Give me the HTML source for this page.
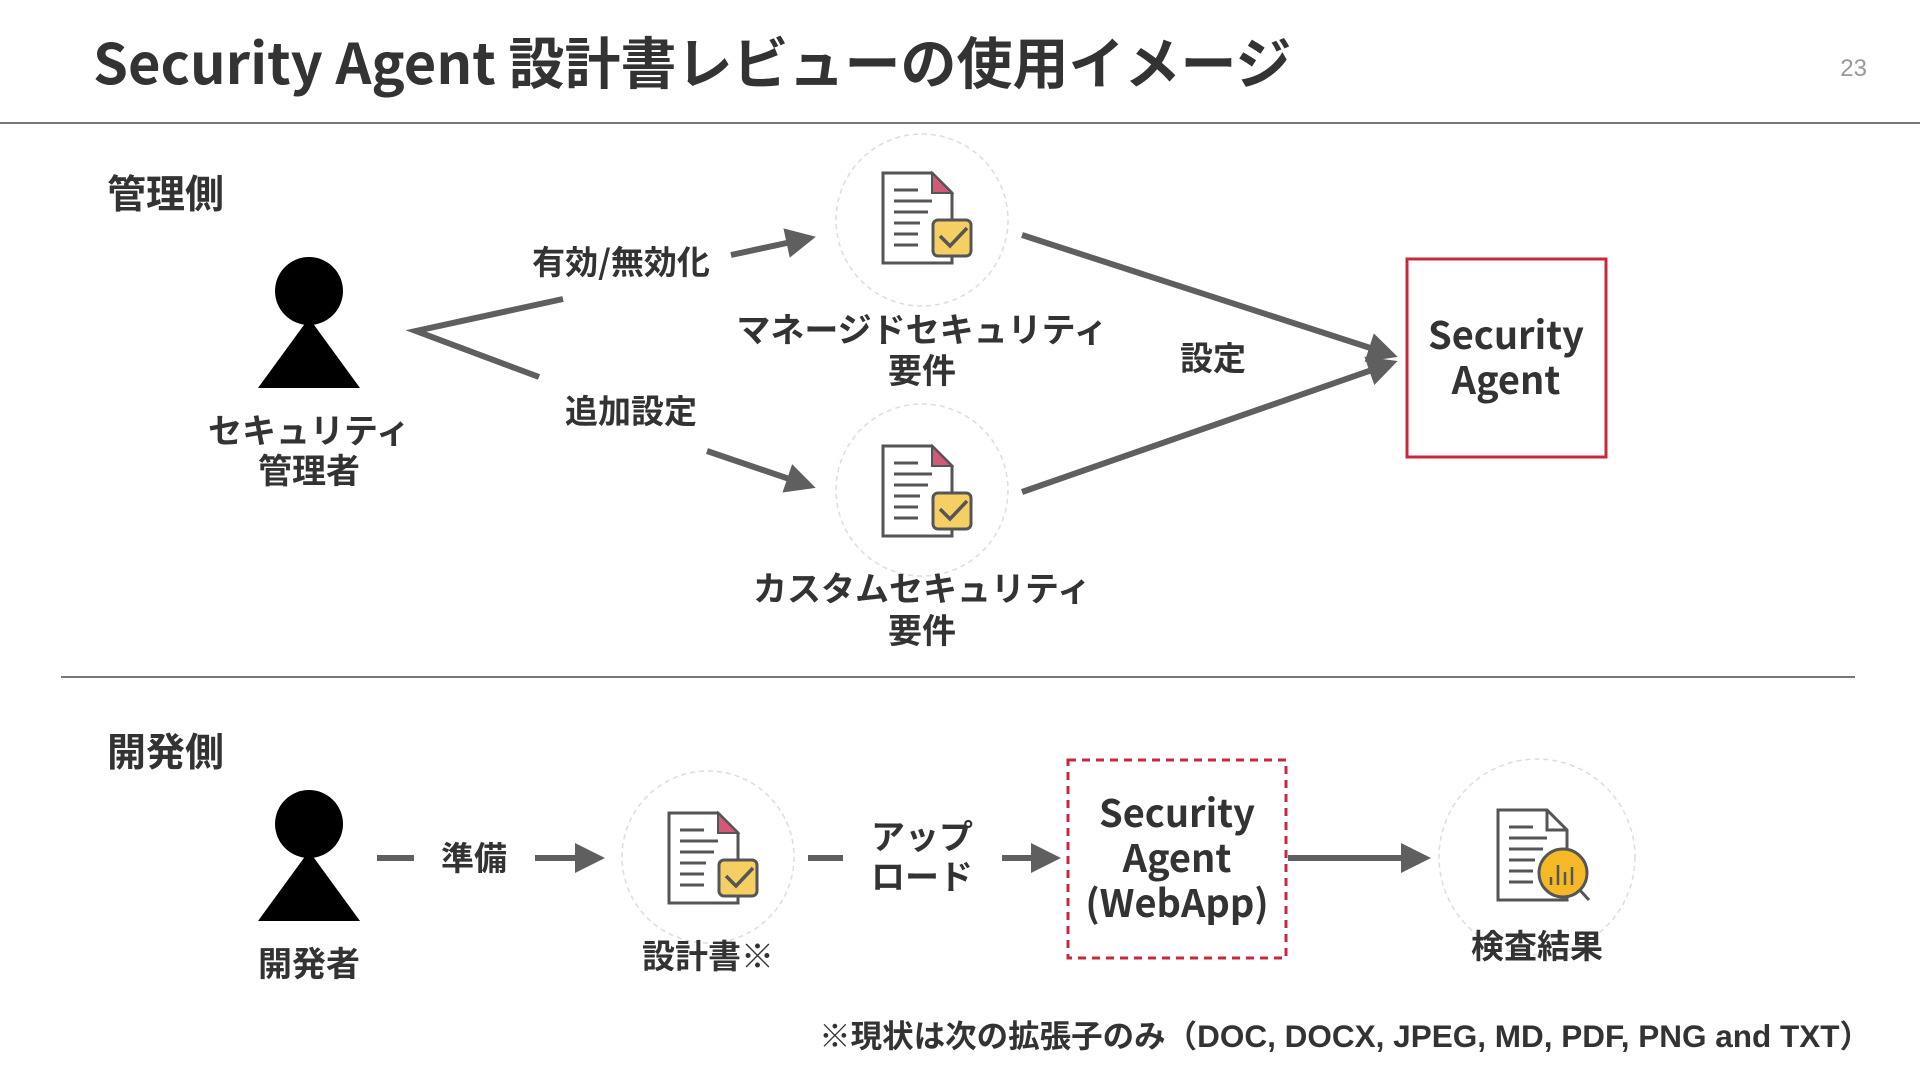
<!DOCTYPE html>
<html><head><meta charset="utf-8"><style>
html,body{margin:0;padding:0;background:#fff;}
svg{display:block;font-family:"Liberation Sans","Noto Sans CJK JP",sans-serif;}
.t{font-weight:bold;fill:#333;font-family:"Noto Sans CJK JP","Liberation Sans",sans-serif;}
.f{font-weight:bold;fill:#333;font-family:"Liberation Sans","Noto Sans CJK JP",sans-serif;}
</style></head><body>
<svg width="1920" height="1080" viewBox="0 0 1920 1080" xmlns="http://www.w3.org/2000/svg">
<defs>
<marker id="ah" markerWidth="5" markerHeight="5" refX="4" refY="2.5" orient="auto" markerUnits="strokeWidth"><path d="M0,0 L5,2.5 L0,5 z" fill="#5f5f5f"/></marker>
<g id="doc">
  <path d="M-39,-47 L10,-47 L30,-27 L30,43 L-39,43 Z" fill="#fff" stroke="#555" stroke-width="3"/>
  <path d="M10,-47 L30,-27 L10,-27 Z" fill="#d4587a" stroke="#555" stroke-width="2"/>
  <g stroke="#555" stroke-width="3">
    <line x1="-28" y1="-30" x2="-4" y2="-30"/><line x1="-28" y1="-19" x2="10" y2="-19"/>
    <line x1="-28" y1="-8" x2="6" y2="-8"/><line x1="-28" y1="3" x2="-2" y2="3"/>
    <line x1="-28" y1="14" x2="-4" y2="14"/><line x1="-28" y1="25" x2="-4" y2="25"/>
  </g>
</g>
<g id="docchk">
  <use href="#doc"/>
  <rect x="11" y="0" width="38" height="36" rx="5" fill="#f5cf64" stroke="#555" stroke-width="3"/>
  <path d="M18,16 L28,26 L45,8" fill="none" stroke="#555" stroke-width="3.5"/>
</g>
</defs>

<text x="93" y="84" class="t" font-size="56" fill="#444">Security Agent 設計書レビューの使用イメージ</text>
<text x="1867" y="76" font-size="24" fill="#999" text-anchor="end">23</text>
<line x1="0" y1="123" x2="1920" y2="123" stroke="#777" stroke-width="2"/>
<line x1="61" y1="677" x2="1855" y2="677" stroke="#777" stroke-width="2"/>

<text x="107" y="208" class="t" font-size="39">管理側</text>
<text x="107" y="766" class="t" font-size="39">開発側</text>

<circle cx="309" cy="291" r="34" fill="#000"/>
<path d="M309,318 L360,388 L258,388 Z" fill="#000"/>
<text x="309" y="443" class="t" font-size="34" text-anchor="middle">セキュリティ</text>
<text x="309" y="483" class="t" font-size="34" text-anchor="middle">管理者</text>

<g stroke="#5f5f5f" stroke-width="6" fill="none">
<polyline points="563,299 416,331 539,377"/>
<line x1="731" y1="255" x2="810" y2="238" marker-end="url(#ah)"/>
<line x1="707" y1="451" x2="810" y2="486" marker-end="url(#ah)"/>
<line x1="1022" y1="235" x2="1392" y2="355" marker-end="url(#ah)"/>
<line x1="1022" y1="492" x2="1392" y2="363" marker-end="url(#ah)"/>
</g>
<text x="621" y="274" class="t" font-size="33" text-anchor="middle">有効/無効化</text>
<text x="631" y="423" class="t" font-size="33" text-anchor="middle">追加設定</text>
<text x="1213" y="370" class="t" font-size="33" text-anchor="middle">設定</text>

<circle cx="922" cy="220" r="86" fill="#fff" stroke="#ddd" stroke-width="1.5" stroke-dasharray="5,4"/>
<use href="#docchk" x="922" y="220"/>
<text x="922" y="342" class="t" font-size="34" text-anchor="middle">マネージドセキュリティ</text>
<text x="922" y="383" class="t" font-size="34" text-anchor="middle">要件</text>

<circle cx="922" cy="490" r="86" fill="#fff" stroke="#ddd" stroke-width="1.5" stroke-dasharray="5,4"/>
<use href="#docchk" x="922" y="493"/>
<text x="922" y="601" class="t" font-size="34" text-anchor="middle">カスタムセキュリティ</text>
<text x="922" y="643" class="t" font-size="34" text-anchor="middle">要件</text>

<rect x="1407" y="259" width="199" height="198" fill="#fff" stroke="#c8283c" stroke-width="3"/>
<text x="1506" y="349" class="t" font-size="38" fill="#111" text-anchor="middle">Security</text>
<text x="1506" y="394" class="t" font-size="38" fill="#111" text-anchor="middle">Agent</text>

<circle cx="309" cy="824" r="34" fill="#000"/>
<path d="M309,851 L360,921 L258,921 Z" fill="#000"/>
<text x="309" y="976" class="t" font-size="34" text-anchor="middle">開発者</text>

<g stroke="#5f5f5f" stroke-width="6" fill="none">
<line x1="377" y1="858" x2="414" y2="858"/>
<line x1="535" y1="858" x2="599" y2="858" marker-end="url(#ah)"/>
<line x1="808" y1="858" x2="843" y2="858"/>
<line x1="1002" y1="858" x2="1055" y2="858" marker-end="url(#ah)"/>
<line x1="1288" y1="858" x2="1425" y2="858" marker-end="url(#ah)"/>
</g>
<text x="474" y="870" class="t" font-size="33" text-anchor="middle">準備</text>
<text x="922" y="849" class="t" font-size="34" text-anchor="middle">アップ</text>
<text x="922" y="889" class="t" font-size="34" text-anchor="middle">ロード</text>

<circle cx="708" cy="857" r="86" fill="#fff" stroke="#ddd" stroke-width="1.5" stroke-dasharray="5,4"/>
<use href="#docchk" x="708" y="860"/>
<text x="708" y="968" class="t" font-size="33" text-anchor="middle">設計書※</text>

<rect x="1068" y="760" width="218" height="198" fill="#fff" stroke="#c8283c" stroke-width="3" stroke-dasharray="8,6"/>
<text x="1177" y="827" class="t" font-size="38" fill="#111" text-anchor="middle">Security</text>
<text x="1177" y="872" class="t" font-size="38" fill="#111" text-anchor="middle">Agent</text>
<text x="1177" y="917" class="t" font-size="38" fill="#111" text-anchor="middle">(WebApp)</text>

<circle cx="1537" cy="857" r="98" fill="#fff" stroke="#ddd" stroke-width="1.5" stroke-dasharray="5,4"/>
<g transform="translate(1537,857)">
  <path d="M-39,-47 L10,-47 L30,-27 L30,43 L-39,43 Z" fill="#fff" stroke="#555" stroke-width="3"/>
  <path d="M10,-47 L10,-27 L30,-27" fill="none" stroke="#555" stroke-width="3"/>
  <g stroke="#555" stroke-width="3">
    <line x1="-28" y1="-30" x2="-4" y2="-30"/><line x1="-28" y1="-19" x2="10" y2="-19"/>
    <line x1="-28" y1="-8" x2="6" y2="-8"/><line x1="-28" y1="3" x2="-2" y2="3"/>
    <line x1="-28" y1="14" x2="-4" y2="14"/><line x1="-28" y1="25" x2="-4" y2="25"/>
  </g>
  <line x1="40" y1="30" x2="52" y2="43" stroke="#555" stroke-width="3"/>
  <circle cx="26" cy="16" r="24" fill="#f5b928" stroke="#555" stroke-width="3"/>
  <g stroke="#555" stroke-width="2.5"><line x1="14" y1="20" x2="14" y2="28"/><line x1="21" y1="8" x2="21" y2="28"/><line x1="28" y1="15" x2="28" y2="28"/><line x1="35" y1="10" x2="35" y2="28"/></g>
</g>
<text x="1537" y="958" class="t" font-size="33" text-anchor="middle">検査結果</text>

<text x="1871" y="1047" class="f" font-size="31.5" text-anchor="end">※現状は次の拡張子のみ（DOC, DOCX, JPEG, MD, PDF, PNG and TXT）</text>
</svg>
</body></html>
